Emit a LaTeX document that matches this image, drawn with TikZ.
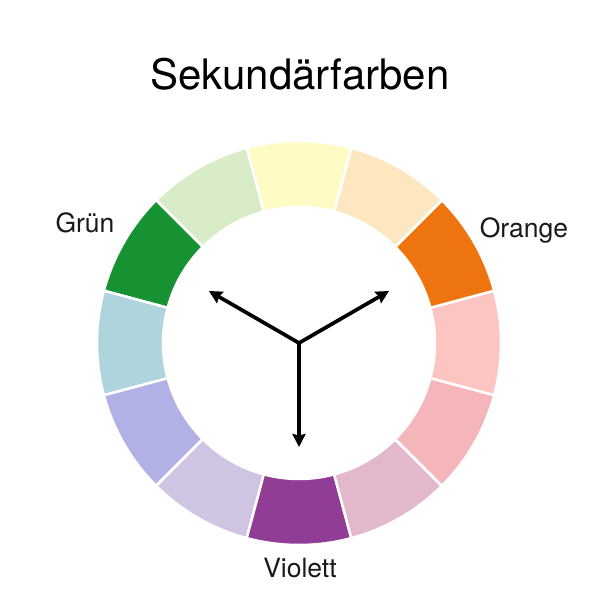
\documentclass[tikz,border=0pt]{standalone}
\usepackage{fontspec}
\setmainfont{TeX Gyre Heros}
\usetikzlibrary{arrows.meta}

% segment colours, by centre angle
\definecolor{seg0}{HTML}{FDC5C1}
\definecolor{seg30}{HTML}{EE7410}
\definecolor{seg60}{HTML}{FDE7C0}
\definecolor{seg90}{HTML}{FEFBC4}
\definecolor{seg120}{HTML}{D8EDC7}
\definecolor{seg150}{HTML}{179233}
\definecolor{seg180}{HTML}{AED4DE}
\definecolor{seg210}{HTML}{B2B1E6}
\definecolor{seg240}{HTML}{CFC4E1}
\definecolor{seg270}{HTML}{923D95}
\definecolor{seg300}{HTML}{E4B8CC}
\definecolor{seg330}{HTML}{F4B6BB}

\tikzset{
    segment/.style={draw=white, line width=2.5pt, line join=miter},
    pointer/.style={line width=3.7pt, -{Stealth[length=13pt,width=13pt,inset=1.5pt]}},
    label/.style={font=\fontsize{26.5}{30}\selectfont, text=black!90}
}

\begin{document}
\begin{tikzpicture}[x=1pt, y=1pt]
    % parameters
    \def\rout{202} % outer radius of the ring
    \def\rin{136}  % inner radius of the ring
    \def\larr{104} % length of the arrows

    \useasboundingbox[fill=white] (0,0) rectangle (600,600);

    \coordinate (c) at (299,257);

    % colour ring: twelve sectors of 30 degrees
    \begin{scope}[shift={(c)}]
        \foreach \a in {0,30,...,330}{
            \draw[segment, fill=seg\a] (\a-15:\rout)
                arc[start angle=\a-15, end angle=\a+15, radius=\rout]
                -- (\a+15:\rin)
                arc[start angle=\a+15, end angle=\a-15, radius=\rin] -- cycle;
        }
        % arrow ends
        \coordinate (pg) at (150:\larr);
        \coordinate (po) at (30:\larr);
        \coordinate (pv) at (270:\larr);
    \end{scope}

    % arrows
    \draw[pointer] (c) -- (pg);
    \draw[pointer] (c) -- (po);
    \draw[pointer] (c) -- (pv);

    % texts
    \node (title) at (300,526) {\fontsize{42}{48}\selectfont Sekundärfarben};
    \node[label] (gruen) at (85,377) {Grün};
    \node[label] (orange) at (524,370) {Orange};
    \node[label] (violett) at (300,32) {Violett};
\end{tikzpicture}
\end{document}
